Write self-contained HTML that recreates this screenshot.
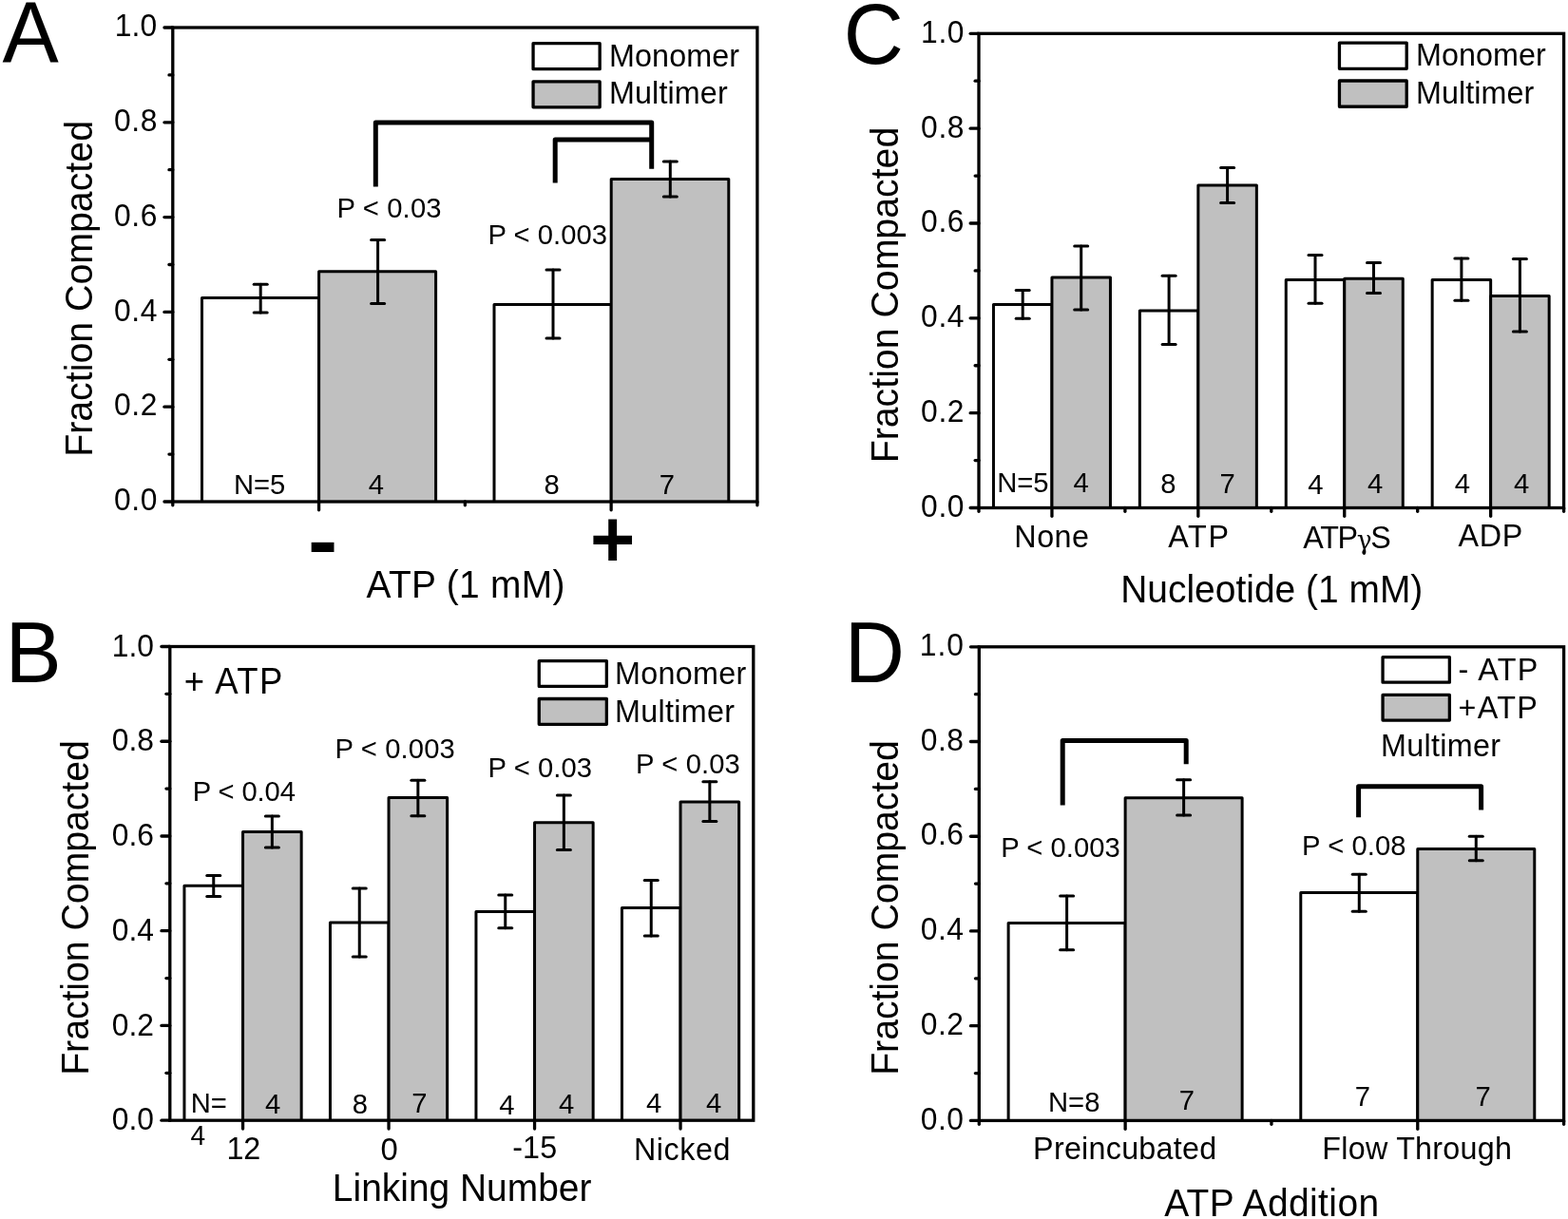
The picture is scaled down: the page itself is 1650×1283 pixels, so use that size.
<!DOCTYPE html>
<html><head><meta charset="utf-8"><title>Fraction Compacted bar charts</title>
<style>
html,body{margin:0;padding:0;background:#fff;}
body{width:1650px;height:1283px;overflow:hidden;}
svg{display:block;}
svg text{font-family:"Liberation Sans", Arial, Helvetica, sans-serif;fill:#000;stroke:none;}
</style></head>
<body>
<svg width="1650" height="1283" viewBox="0 0 1650 1283">
<rect x="0" y="0" width="1650" height="1283" fill="#fff"/>
<g stroke="#000">
<text id="lA" transform="translate(2.55 64.58) scale(1 1.04)" font-size="86.5" text-anchor="start" textLength="59.26" lengthAdjust="spacingAndGlyphs">A</text>
<text id="ylA" transform="translate(96.5 303.93) rotate(-90) scale(1 1.04)" font-size="39.3" text-anchor="middle" textLength="353.88" lengthAdjust="spacing">Fraction Compacted</text>
<path d="M212.5 528V313.5H335.6V528" fill="#ffffff" stroke-width="3" stroke-linejoin="round"/>
<path d="M335.6 528V285.7H458.6V528" fill="#c0c0c0" stroke-width="3" stroke-linejoin="round"/>
<path d="M520 528V320.5H643.2V528" fill="#ffffff" stroke-width="3" stroke-linejoin="round"/>
<path d="M643.2 528V188.4H766.8V528" fill="#c0c0c0" stroke-width="3" stroke-linejoin="round"/>
<line x1="274.2" y1="299.3" x2="274.2" y2="329" stroke-width="3" stroke-linecap="round"/>
<line x1="267.2" y1="299.3" x2="281.2" y2="299.3" stroke-width="3" stroke-linecap="round"/>
<line x1="267.2" y1="329" x2="281.2" y2="329" stroke-width="3" stroke-linecap="round"/>
<line x1="397.6" y1="252.6" x2="397.6" y2="319.6" stroke-width="3" stroke-linecap="round"/>
<line x1="390.6" y1="252.6" x2="404.6" y2="252.6" stroke-width="3" stroke-linecap="round"/>
<line x1="390.6" y1="319.6" x2="404.6" y2="319.6" stroke-width="3" stroke-linecap="round"/>
<line x1="582" y1="284" x2="582" y2="356.1" stroke-width="3" stroke-linecap="round"/>
<line x1="575" y1="284" x2="589" y2="284" stroke-width="3" stroke-linecap="round"/>
<line x1="575" y1="356.1" x2="589" y2="356.1" stroke-width="3" stroke-linecap="round"/>
<line x1="705.3" y1="169.9" x2="705.3" y2="207" stroke-width="3" stroke-linecap="round"/>
<line x1="698.3" y1="169.9" x2="712.3" y2="169.9" stroke-width="3" stroke-linecap="round"/>
<line x1="698.3" y1="207" x2="712.3" y2="207" stroke-width="3" stroke-linecap="round"/>
<rect x="181.8" y="29" width="615.1" height="499" fill="none" stroke-width="3.3" stroke-linejoin="miter"/>
<line x1="172.95" y1="528" x2="181.8" y2="528" stroke-width="3.3" stroke-linecap="round"/>
<text id="tA0" transform="translate(165.5 537.12) scale(1 1.04)" font-size="31.8" text-anchor="end" textLength="45.45" lengthAdjust="spacing">0.0</text>
<line x1="177.95" y1="478.1" x2="181.8" y2="478.1" stroke-width="3.3" stroke-linecap="round"/>
<line x1="172.95" y1="428.2" x2="181.8" y2="428.2" stroke-width="3.3" stroke-linecap="round"/>
<text id="tA2" transform="translate(165.5 437.32) scale(1 1.04)" font-size="31.8" text-anchor="end" textLength="45.45" lengthAdjust="spacing">0.2</text>
<line x1="177.95" y1="378.3" x2="181.8" y2="378.3" stroke-width="3.3" stroke-linecap="round"/>
<line x1="172.95" y1="328.4" x2="181.8" y2="328.4" stroke-width="3.3" stroke-linecap="round"/>
<text id="tA4" transform="translate(165.5 337.52) scale(1 1.04)" font-size="31.8" text-anchor="end" textLength="45.45" lengthAdjust="spacing">0.4</text>
<line x1="177.95" y1="278.5" x2="181.8" y2="278.5" stroke-width="3.3" stroke-linecap="round"/>
<line x1="172.95" y1="228.6" x2="181.8" y2="228.6" stroke-width="3.3" stroke-linecap="round"/>
<text id="tA6" transform="translate(165.5 237.73) scale(1 1.04)" font-size="31.8" text-anchor="end" textLength="45.45" lengthAdjust="spacing">0.6</text>
<line x1="177.95" y1="178.7" x2="181.8" y2="178.7" stroke-width="3.3" stroke-linecap="round"/>
<line x1="172.95" y1="128.8" x2="181.8" y2="128.8" stroke-width="3.3" stroke-linecap="round"/>
<text id="tA8" transform="translate(165.5 137.92) scale(1 1.04)" font-size="31.8" text-anchor="end" textLength="45.45" lengthAdjust="spacing">0.8</text>
<line x1="177.95" y1="78.9" x2="181.8" y2="78.9" stroke-width="3.3" stroke-linecap="round"/>
<line x1="172.95" y1="29" x2="181.8" y2="29" stroke-width="3.3" stroke-linecap="round"/>
<text id="tA10" transform="translate(165.25 38) scale(1 1.04)" font-size="31.8" text-anchor="end" textLength="44.45" lengthAdjust="spacing">1.0</text>
<line x1="181.8" y1="528" x2="181.8" y2="531.85" stroke-width="3.3" stroke-linecap="round"/>
<line x1="489.35" y1="528" x2="489.35" y2="531.85" stroke-width="3.3" stroke-linecap="round"/>
<line x1="796.9" y1="528" x2="796.9" y2="531.85" stroke-width="3.3" stroke-linecap="round"/>
<line x1="335.57" y1="528" x2="335.57" y2="536.85" stroke-width="3.3" stroke-linecap="round"/>
<line x1="643.12" y1="528" x2="643.12" y2="536.85" stroke-width="3.3" stroke-linecap="round"/>
<text id="nA1" transform="translate(273.2 520.18) scale(1 1.04)" font-size="29.2" text-anchor="middle" textLength="54.34" lengthAdjust="spacing">N=5</text>
<text id="nA2" transform="translate(395.9 520.3) scale(1 1.04)" font-size="29.2" text-anchor="middle">4</text>
<text id="nA3" transform="translate(580.65 520.3) scale(1 1.04)" font-size="29.2" text-anchor="middle">8</text>
<text id="nA4" transform="translate(701.75 520.2) scale(1 1.04)" font-size="29.2" text-anchor="middle">7</text>
<path d="M395.3 196.5 L395.3 129 L685.7 129 L685.7 177.8" fill="none" stroke-width="5" stroke-linejoin="round" stroke-linecap="butt"/>
<path d="M584.2 192.6 L584.2 147.1 L685.7 147.1" fill="none" stroke-width="5" stroke-linejoin="round" stroke-linecap="butt"/>
<text id="pA1" transform="translate(409.5 229.42) scale(1 1.04)" font-size="29.2" text-anchor="middle" textLength="109.97" lengthAdjust="spacing">P &lt; 0.03</text>
<text id="pA2" transform="translate(576.25 257.18) scale(1 1.04)" font-size="29.2" text-anchor="middle" textLength="125.71" lengthAdjust="spacing">P &lt; 0.003</text>
<rect x="561.05" y="45.7" width="70.1" height="26.95" fill="#ffffff" stroke-width="3.3" stroke-linejoin="round"/>
<rect x="561.05" y="85.95" width="70.1" height="26.9" fill="#c0c0c0" stroke-width="3.3" stroke-linejoin="round"/>
<text id="monA" transform="translate(641 69.53) scale(1 1.04)" font-size="32.3" text-anchor="start" textLength="137.12" lengthAdjust="spacing">Monomer</text>
<text id="mulA" transform="translate(641 109.13) scale(1 1.04)" font-size="32.3" text-anchor="start" textLength="124.66" lengthAdjust="spacing">Multimer</text>
<text id="minusA" transform="translate(339.62 597.88) scale(1 1.04)" font-size="82" text-anchor="middle" font-weight="bold" textLength="31.26" lengthAdjust="spacingAndGlyphs">-</text>
<text id="plusA" transform="translate(644.75 597.38) scale(1 1.04)" font-size="82" text-anchor="middle" font-weight="bold" textLength="47.35" lengthAdjust="spacingAndGlyphs">+</text>
<text id="xtA" transform="translate(490 628.6) scale(1 1.04)" font-size="38.9" text-anchor="middle" textLength="208.97" lengthAdjust="spacing">ATP (1 mM)</text>
<text id="lC" transform="translate(887.75 67) scale(1 1.04)" font-size="86.5" text-anchor="start" textLength="63.13" lengthAdjust="spacingAndGlyphs">C</text>
<text id="ylC" transform="translate(944.5 310.5) rotate(-90) scale(1 1.04)" font-size="39.3" text-anchor="middle" textLength="353.63" lengthAdjust="spacing">Fraction Compacted</text>
<path d="M1045.45 534.5V320.4H1106.95V534.5" fill="#ffffff" stroke-width="3" stroke-linejoin="round"/>
<path d="M1106.95 534.5V292.1H1168.45V534.5" fill="#c0c0c0" stroke-width="3" stroke-linejoin="round"/>
<line x1="1076.2" y1="305.5" x2="1076.2" y2="335.3" stroke-width="3" stroke-linecap="round"/>
<line x1="1069.2" y1="305.5" x2="1083.2" y2="305.5" stroke-width="3" stroke-linecap="round"/>
<line x1="1069.2" y1="335.3" x2="1083.2" y2="335.3" stroke-width="3" stroke-linecap="round"/>
<line x1="1137.7" y1="258.9" x2="1137.7" y2="326.1" stroke-width="3" stroke-linecap="round"/>
<line x1="1130.7" y1="258.9" x2="1144.7" y2="258.9" stroke-width="3" stroke-linecap="round"/>
<line x1="1130.7" y1="326.1" x2="1144.7" y2="326.1" stroke-width="3" stroke-linecap="round"/>
<text id="nC1" transform="translate(1076.45 518.18) scale(1 1.04)" font-size="29.2" text-anchor="middle" textLength="54.34" lengthAdjust="spacing">N=5</text>
<text id="nC2" transform="translate(1137.5 518.4) scale(1 1.04)" font-size="29.2" text-anchor="middle">4</text>
<path d="M1199.35 534.5V326.9H1260.85V534.5" fill="#ffffff" stroke-width="3" stroke-linejoin="round"/>
<path d="M1260.85 534.5V195.1H1322.35V534.5" fill="#c0c0c0" stroke-width="3" stroke-linejoin="round"/>
<line x1="1230.1" y1="290.2" x2="1230.1" y2="362.4" stroke-width="3" stroke-linecap="round"/>
<line x1="1223.1" y1="290.2" x2="1237.1" y2="290.2" stroke-width="3" stroke-linecap="round"/>
<line x1="1223.1" y1="362.4" x2="1237.1" y2="362.4" stroke-width="3" stroke-linecap="round"/>
<line x1="1291.6" y1="176.4" x2="1291.6" y2="213.5" stroke-width="3" stroke-linecap="round"/>
<line x1="1284.6" y1="176.4" x2="1298.6" y2="176.4" stroke-width="3" stroke-linecap="round"/>
<line x1="1284.6" y1="213.5" x2="1298.6" y2="213.5" stroke-width="3" stroke-linecap="round"/>
<text id="nC3" transform="translate(1229.25 519.4) scale(1 1.04)" font-size="29.2" text-anchor="middle">8</text>
<text id="nC4" transform="translate(1291.7 518.8) scale(1 1.04)" font-size="29.2" text-anchor="middle">7</text>
<path d="M1353.25 534.5V294.4H1414.75V534.5" fill="#ffffff" stroke-width="3" stroke-linejoin="round"/>
<path d="M1414.75 534.5V293.3H1476.25V534.5" fill="#c0c0c0" stroke-width="3" stroke-linejoin="round"/>
<line x1="1384" y1="268.4" x2="1384" y2="319.2" stroke-width="3" stroke-linecap="round"/>
<line x1="1377" y1="268.4" x2="1391" y2="268.4" stroke-width="3" stroke-linecap="round"/>
<line x1="1377" y1="319.2" x2="1391" y2="319.2" stroke-width="3" stroke-linecap="round"/>
<line x1="1445.5" y1="276.5" x2="1445.5" y2="308.5" stroke-width="3" stroke-linecap="round"/>
<line x1="1438.5" y1="276.5" x2="1452.5" y2="276.5" stroke-width="3" stroke-linecap="round"/>
<line x1="1438.5" y1="308.5" x2="1452.5" y2="308.5" stroke-width="3" stroke-linecap="round"/>
<text id="nC5" transform="translate(1384.35 520.05) scale(1 1.04)" font-size="29.2" text-anchor="middle">4</text>
<text id="nC6" transform="translate(1447.15 519.45) scale(1 1.04)" font-size="29.2" text-anchor="middle">4</text>
<path d="M1507.15 534.5V294.4H1568.65V534.5" fill="#ffffff" stroke-width="3" stroke-linejoin="round"/>
<path d="M1568.65 534.5V311.6H1630.15V534.5" fill="#c0c0c0" stroke-width="3" stroke-linejoin="round"/>
<line x1="1537.9" y1="271.9" x2="1537.9" y2="316.2" stroke-width="3" stroke-linecap="round"/>
<line x1="1530.9" y1="271.9" x2="1544.9" y2="271.9" stroke-width="3" stroke-linecap="round"/>
<line x1="1530.9" y1="316.2" x2="1544.9" y2="316.2" stroke-width="3" stroke-linecap="round"/>
<line x1="1599.4" y1="272.6" x2="1599.4" y2="349" stroke-width="3" stroke-linecap="round"/>
<line x1="1592.4" y1="272.6" x2="1606.4" y2="272.6" stroke-width="3" stroke-linecap="round"/>
<line x1="1592.4" y1="349" x2="1606.4" y2="349" stroke-width="3" stroke-linecap="round"/>
<text id="nC7" transform="translate(1538.75 518.8) scale(1 1.04)" font-size="29.2" text-anchor="middle">4</text>
<text id="nC8" transform="translate(1601.15 518.5) scale(1 1.04)" font-size="29.2" text-anchor="middle">4</text>
<rect x="1030" y="35.3" width="615.6" height="499.2" fill="none" stroke-width="3.3" stroke-linejoin="miter"/>
<line x1="1021.15" y1="534.5" x2="1030" y2="534.5" stroke-width="3.3" stroke-linecap="round"/>
<text id="tC0" transform="translate(1014.55 543.88) scale(1 1.04)" font-size="31.8" text-anchor="end" textLength="45.45" lengthAdjust="spacing">0.0</text>
<line x1="1026.15" y1="484.58" x2="1030" y2="484.58" stroke-width="3.3" stroke-linecap="round"/>
<line x1="1021.15" y1="434.66" x2="1030" y2="434.66" stroke-width="3.3" stroke-linecap="round"/>
<text id="tC2" transform="translate(1014.55 444.03) scale(1 1.04)" font-size="31.8" text-anchor="end" textLength="45.45" lengthAdjust="spacing">0.2</text>
<line x1="1026.15" y1="384.74" x2="1030" y2="384.74" stroke-width="3.3" stroke-linecap="round"/>
<line x1="1021.15" y1="334.82" x2="1030" y2="334.82" stroke-width="3.3" stroke-linecap="round"/>
<text id="tC4" transform="translate(1014.55 344.19) scale(1 1.04)" font-size="31.8" text-anchor="end" textLength="45.45" lengthAdjust="spacing">0.4</text>
<line x1="1026.15" y1="284.9" x2="1030" y2="284.9" stroke-width="3.3" stroke-linecap="round"/>
<line x1="1021.15" y1="234.98" x2="1030" y2="234.98" stroke-width="3.3" stroke-linecap="round"/>
<text id="tC6" transform="translate(1014.55 244.36) scale(1 1.04)" font-size="31.8" text-anchor="end" textLength="45.45" lengthAdjust="spacing">0.6</text>
<line x1="1026.15" y1="185.06" x2="1030" y2="185.06" stroke-width="3.3" stroke-linecap="round"/>
<line x1="1021.15" y1="135.14" x2="1030" y2="135.14" stroke-width="3.3" stroke-linecap="round"/>
<text id="tC8" transform="translate(1014.55 144.51) scale(1 1.04)" font-size="31.8" text-anchor="end" textLength="45.45" lengthAdjust="spacing">0.8</text>
<line x1="1026.15" y1="85.22" x2="1030" y2="85.22" stroke-width="3.3" stroke-linecap="round"/>
<line x1="1021.15" y1="35.3" x2="1030" y2="35.3" stroke-width="3.3" stroke-linecap="round"/>
<text id="tC10" transform="translate(1014.55 44.68) scale(1 1.04)" font-size="31.8" text-anchor="end" textLength="45.45" lengthAdjust="spacing">1.0</text>
<line x1="1030" y1="534.5" x2="1030" y2="538.35" stroke-width="3.3" stroke-linecap="round"/>
<line x1="1183.9" y1="534.5" x2="1183.9" y2="538.35" stroke-width="3.3" stroke-linecap="round"/>
<line x1="1337.8" y1="534.5" x2="1337.8" y2="538.35" stroke-width="3.3" stroke-linecap="round"/>
<line x1="1491.7" y1="534.5" x2="1491.7" y2="538.35" stroke-width="3.3" stroke-linecap="round"/>
<line x1="1645.6" y1="534.5" x2="1645.6" y2="538.35" stroke-width="3.3" stroke-linecap="round"/>
<line x1="1106.95" y1="534.5" x2="1106.95" y2="543.35" stroke-width="3.3" stroke-linecap="round"/>
<line x1="1260.85" y1="534.5" x2="1260.85" y2="543.35" stroke-width="3.3" stroke-linecap="round"/>
<line x1="1414.75" y1="534.5" x2="1414.75" y2="543.35" stroke-width="3.3" stroke-linecap="round"/>
<line x1="1568.65" y1="534.5" x2="1568.65" y2="543.35" stroke-width="3.3" stroke-linecap="round"/>
<text id="catC1" transform="translate(1106.7 576.37) scale(1 1.04)" font-size="32.3" text-anchor="middle" textLength="78.69" lengthAdjust="spacing">None</text>
<text id="catC2" transform="translate(1261.1 575.63) scale(1 1.04)" font-size="32.3" text-anchor="middle" textLength="63.91" lengthAdjust="spacing">ATP</text>
<text id="catC3" transform="translate(1417.62 577.06) scale(1 1.04)" font-size="32.3" text-anchor="middle" textLength="92.54" lengthAdjust="spacing">ATP<tspan font-family="DejaVu Serif, serif" font-size="26.5" dy="0.6">&#947;</tspan><tspan dy="-0.6">S</tspan></text>
<text id="catC4" transform="translate(1568.4 575.25) scale(1 1.04)" font-size="32.3" text-anchor="middle" textLength="67.89" lengthAdjust="spacing">ADP</text>
<text id="xtC" transform="translate(1338.25 633.6) scale(1 1.04)" font-size="38.9" text-anchor="middle" textLength="318.16" lengthAdjust="spacing">Nucleotide (1 mM)</text>
<rect x="1409.45" y="45.05" width="70.75" height="27.3" fill="#ffffff" stroke-width="3.3" stroke-linejoin="round"/>
<rect x="1409.45" y="85" width="70.75" height="27.25" fill="#c0c0c0" stroke-width="3.3" stroke-linejoin="round"/>
<text id="monC" transform="translate(1490 69.35) scale(1 1.04)" font-size="32.3" text-anchor="start" textLength="136.87" lengthAdjust="spacing">Monomer</text>
<text id="mulC" transform="translate(1490 109.05) scale(1 1.04)" font-size="32.3" text-anchor="start" textLength="124.36" lengthAdjust="spacing">Multimer</text>
<text id="lB" transform="translate(5.5 717.65) scale(1 1.04)" font-size="86.5" text-anchor="start" textLength="59.28" lengthAdjust="spacingAndGlyphs">B</text>
<text id="ylB" transform="translate(93.25 955.5) rotate(-90) scale(1 1.04)" font-size="39.3" text-anchor="middle" textLength="352.63" lengthAdjust="spacing">Fraction Compacted</text>
<path d="M193.95 1179.2V932.2H255.55V1179.2" fill="#ffffff" stroke-width="3" stroke-linejoin="round"/>
<path d="M255.55 1179.2V875.4H317.15V1179.2" fill="#c0c0c0" stroke-width="3" stroke-linejoin="round"/>
<line x1="224.75" y1="921.5" x2="224.75" y2="943.6" stroke-width="3" stroke-linecap="round"/>
<line x1="217.75" y1="921.5" x2="231.75" y2="921.5" stroke-width="3" stroke-linecap="round"/>
<line x1="217.75" y1="943.6" x2="231.75" y2="943.6" stroke-width="3" stroke-linecap="round"/>
<line x1="286.35" y1="858.9" x2="286.35" y2="892" stroke-width="3" stroke-linecap="round"/>
<line x1="279.35" y1="858.9" x2="293.35" y2="858.9" stroke-width="3" stroke-linecap="round"/>
<line x1="279.35" y1="892" x2="293.35" y2="892" stroke-width="3" stroke-linecap="round"/>
<text id="nB1" transform="translate(219.75 1170.8) scale(1 1.04)" font-size="29.2" text-anchor="middle" textLength="38.12" lengthAdjust="spacing">N=</text>
<text id="nB2" transform="translate(287 1171.5) scale(1 1.04)" font-size="29.2" text-anchor="middle">4</text>
<path d="M347.45 1179.2V971.1H409.05V1179.2" fill="#ffffff" stroke-width="3" stroke-linejoin="round"/>
<path d="M409.05 1179.2V839.6H470.65V1179.2" fill="#c0c0c0" stroke-width="3" stroke-linejoin="round"/>
<line x1="378.25" y1="934.9" x2="378.25" y2="1006.9" stroke-width="3" stroke-linecap="round"/>
<line x1="371.25" y1="934.9" x2="385.25" y2="934.9" stroke-width="3" stroke-linecap="round"/>
<line x1="371.25" y1="1006.9" x2="385.25" y2="1006.9" stroke-width="3" stroke-linecap="round"/>
<line x1="439.85" y1="821.2" x2="439.85" y2="858.8" stroke-width="3" stroke-linecap="round"/>
<line x1="432.85" y1="821.2" x2="446.85" y2="821.2" stroke-width="3" stroke-linecap="round"/>
<line x1="432.85" y1="858.8" x2="446.85" y2="858.8" stroke-width="3" stroke-linecap="round"/>
<text id="nB3" transform="translate(378.9 1171.8) scale(1 1.04)" font-size="29.2" text-anchor="middle">8</text>
<text id="nB4" transform="translate(441.3 1171.25) scale(1 1.04)" font-size="29.2" text-anchor="middle">7</text>
<path d="M500.95 1179.2V959.4H562.55V1179.2" fill="#ffffff" stroke-width="3" stroke-linejoin="round"/>
<path d="M562.55 1179.2V865.8H624.15V1179.2" fill="#c0c0c0" stroke-width="3" stroke-linejoin="round"/>
<line x1="531.75" y1="941.9" x2="531.75" y2="976.8" stroke-width="3" stroke-linecap="round"/>
<line x1="524.75" y1="941.9" x2="538.75" y2="941.9" stroke-width="3" stroke-linecap="round"/>
<line x1="524.75" y1="976.8" x2="538.75" y2="976.8" stroke-width="3" stroke-linecap="round"/>
<line x1="593.35" y1="837.1" x2="593.35" y2="894.5" stroke-width="3" stroke-linecap="round"/>
<line x1="586.35" y1="837.1" x2="600.35" y2="837.1" stroke-width="3" stroke-linecap="round"/>
<line x1="586.35" y1="894.5" x2="600.35" y2="894.5" stroke-width="3" stroke-linecap="round"/>
<text id="nB5" transform="translate(533.25 1173.1) scale(1 1.04)" font-size="29.2" text-anchor="middle">4</text>
<text id="nB6" transform="translate(596.2 1171.5) scale(1 1.04)" font-size="29.2" text-anchor="middle">4</text>
<path d="M654.45 1179.2V955.6H716.05V1179.2" fill="#ffffff" stroke-width="3" stroke-linejoin="round"/>
<path d="M716.05 1179.2V843.9H777.65V1179.2" fill="#c0c0c0" stroke-width="3" stroke-linejoin="round"/>
<line x1="685.25" y1="926.4" x2="685.25" y2="985.1" stroke-width="3" stroke-linecap="round"/>
<line x1="678.25" y1="926.4" x2="692.25" y2="926.4" stroke-width="3" stroke-linecap="round"/>
<line x1="678.25" y1="985.1" x2="692.25" y2="985.1" stroke-width="3" stroke-linecap="round"/>
<line x1="746.85" y1="822.7" x2="746.85" y2="864.6" stroke-width="3" stroke-linecap="round"/>
<line x1="739.85" y1="822.7" x2="753.85" y2="822.7" stroke-width="3" stroke-linecap="round"/>
<line x1="739.85" y1="864.6" x2="753.85" y2="864.6" stroke-width="3" stroke-linecap="round"/>
<text id="nB7" transform="translate(688.05 1171.2) scale(1 1.04)" font-size="29.2" text-anchor="middle">4</text>
<text id="nB8" transform="translate(751.05 1170.65) scale(1 1.04)" font-size="29.2" text-anchor="middle">4</text>
<rect x="178.8" y="680.5" width="614" height="498.7" fill="none" stroke-width="3.3" stroke-linejoin="miter"/>
<line x1="169.95" y1="1179.2" x2="178.8" y2="1179.2" stroke-width="3.3" stroke-linecap="round"/>
<text id="tB0" transform="translate(162 1189.45) scale(1 1.04)" font-size="31.8" text-anchor="end" textLength="44.2" lengthAdjust="spacing">0.0</text>
<line x1="174.95" y1="1129.33" x2="178.8" y2="1129.33" stroke-width="3.3" stroke-linecap="round"/>
<line x1="169.95" y1="1079.46" x2="178.8" y2="1079.46" stroke-width="3.3" stroke-linecap="round"/>
<text id="tB2" transform="translate(162 1089.71) scale(1 1.04)" font-size="31.8" text-anchor="end" textLength="44.2" lengthAdjust="spacing">0.2</text>
<line x1="174.95" y1="1029.59" x2="178.8" y2="1029.59" stroke-width="3.3" stroke-linecap="round"/>
<line x1="169.95" y1="979.72" x2="178.8" y2="979.72" stroke-width="3.3" stroke-linecap="round"/>
<text id="tB4" transform="translate(162 989.97) scale(1 1.04)" font-size="31.8" text-anchor="end" textLength="44.2" lengthAdjust="spacing">0.4</text>
<line x1="174.95" y1="929.85" x2="178.8" y2="929.85" stroke-width="3.3" stroke-linecap="round"/>
<line x1="169.95" y1="879.98" x2="178.8" y2="879.98" stroke-width="3.3" stroke-linecap="round"/>
<text id="tB6" transform="translate(162 890.23) scale(1 1.04)" font-size="31.8" text-anchor="end" textLength="44.2" lengthAdjust="spacing">0.6</text>
<line x1="174.95" y1="830.11" x2="178.8" y2="830.11" stroke-width="3.3" stroke-linecap="round"/>
<line x1="169.95" y1="780.24" x2="178.8" y2="780.24" stroke-width="3.3" stroke-linecap="round"/>
<text id="tB8" transform="translate(162 790.49) scale(1 1.04)" font-size="31.8" text-anchor="end" textLength="44.2" lengthAdjust="spacing">0.8</text>
<line x1="174.95" y1="730.37" x2="178.8" y2="730.37" stroke-width="3.3" stroke-linecap="round"/>
<line x1="169.95" y1="680.5" x2="178.8" y2="680.5" stroke-width="3.3" stroke-linecap="round"/>
<text id="tB10" transform="translate(162 690.75) scale(1 1.04)" font-size="31.8" text-anchor="end" textLength="44.2" lengthAdjust="spacing">1.0</text>
<line x1="255.55" y1="1179.2" x2="255.55" y2="1188.05" stroke-width="3.3" stroke-linecap="round"/>
<line x1="409.05" y1="1179.2" x2="409.05" y2="1188.05" stroke-width="3.3" stroke-linecap="round"/>
<line x1="562.55" y1="1179.2" x2="562.55" y2="1188.05" stroke-width="3.3" stroke-linecap="round"/>
<line x1="716.05" y1="1179.2" x2="716.05" y2="1188.05" stroke-width="3.3" stroke-linecap="round"/>
<text id="n4below" transform="translate(208.37 1205.25) scale(1 1.04)" font-size="29.2" text-anchor="middle" textLength="15.61" lengthAdjust="spacingAndGlyphs">4</text>
<text id="catB1" transform="translate(256.42 1220.3) scale(1 1.04)" font-size="32.3" text-anchor="middle" textLength="35.67" lengthAdjust="spacing">12</text>
<text id="catB2" transform="translate(409.55 1221.05) scale(1 1.04)" font-size="32.3" text-anchor="middle" textLength="18.26" lengthAdjust="spacingAndGlyphs">0</text>
<text id="catB3" transform="translate(562.67 1219.3) scale(1 1.04)" font-size="32.3" text-anchor="middle" textLength="46.92" lengthAdjust="spacing">-15</text>
<text id="catB4" transform="translate(717.67 1220.55) scale(1 1.04)" font-size="32.3" text-anchor="middle" textLength="101.44" lengthAdjust="spacing">Nicked</text>
<text id="xtB" transform="translate(486.12 1263.55) scale(1 1.04)" font-size="38.9" text-anchor="middle" textLength="272.59" lengthAdjust="spacing">Linking Number</text>
<text id="plusATP" transform="translate(193.75 729.85) scale(1 1.04)" font-size="36.5" text-anchor="start" textLength="103.68" lengthAdjust="spacing">+ ATP</text>
<rect x="567.25" y="695.55" width="71.1" height="26.85" fill="#ffffff" stroke-width="3.3" stroke-linejoin="round"/>
<rect x="567.25" y="735.5" width="71.1" height="26.85" fill="#c0c0c0" stroke-width="3.3" stroke-linejoin="round"/>
<text id="monB" transform="translate(647 720.15) scale(1 1.04)" font-size="32.3" text-anchor="start" textLength="138.37" lengthAdjust="spacing">Monomer</text>
<text id="mulB" transform="translate(647 760.05) scale(1 1.04)" font-size="32.3" text-anchor="start" textLength="126.11" lengthAdjust="spacing">Multimer</text>
<text id="pB1" transform="translate(256.87 843.27) scale(1 1.04)" font-size="29.2" text-anchor="middle" textLength="108.22" lengthAdjust="spacing">P &lt; 0.04</text>
<text id="pB2" transform="translate(415.63 797.67) scale(1 1.04)" font-size="29.2" text-anchor="middle" textLength="126.46" lengthAdjust="spacing">P &lt; 0.003</text>
<text id="pB3" transform="translate(568.2 818.45) scale(1 1.04)" font-size="29.2" text-anchor="middle" textLength="109.47" lengthAdjust="spacing">P &lt; 0.03</text>
<text id="pB4" transform="translate(723.88 814.45) scale(1 1.04)" font-size="29.2" text-anchor="middle" textLength="109.72" lengthAdjust="spacing">P &lt; 0.03</text>
<text id="lD" transform="translate(888.75 717.55) scale(1 1.04)" font-size="86.5" text-anchor="start" textLength="63.15" lengthAdjust="spacingAndGlyphs">D</text>
<text id="ylD" transform="translate(944.8 955.5) rotate(-90) scale(1 1.04)" font-size="39.3" text-anchor="middle" textLength="352.63" lengthAdjust="spacing">Fraction Compacted</text>
<path d="M1061.12 1179.4V971.5H1184.12V1179.4" fill="#ffffff" stroke-width="3" stroke-linejoin="round"/>
<path d="M1184.12 1179.4V839.7H1307.12V1179.4" fill="#c0c0c0" stroke-width="3" stroke-linejoin="round"/>
<line x1="1122.62" y1="942.9" x2="1122.62" y2="999.7" stroke-width="3" stroke-linecap="round"/>
<line x1="1115.62" y1="942.9" x2="1129.62" y2="942.9" stroke-width="3" stroke-linecap="round"/>
<line x1="1115.62" y1="999.7" x2="1129.62" y2="999.7" stroke-width="3" stroke-linecap="round"/>
<line x1="1245.62" y1="820.8" x2="1245.62" y2="857.9" stroke-width="3" stroke-linecap="round"/>
<line x1="1238.62" y1="820.8" x2="1252.62" y2="820.8" stroke-width="3" stroke-linecap="round"/>
<line x1="1238.62" y1="857.9" x2="1252.62" y2="857.9" stroke-width="3" stroke-linecap="round"/>
<path d="M1368.77 1179.4V939.4H1491.77V1179.4" fill="#ffffff" stroke-width="3" stroke-linejoin="round"/>
<path d="M1491.77 1179.4V893.6H1614.77V1179.4" fill="#c0c0c0" stroke-width="3" stroke-linejoin="round"/>
<line x1="1430.27" y1="920.3" x2="1430.27" y2="959.3" stroke-width="3" stroke-linecap="round"/>
<line x1="1423.27" y1="920.3" x2="1437.27" y2="920.3" stroke-width="3" stroke-linecap="round"/>
<line x1="1423.27" y1="959.3" x2="1437.27" y2="959.3" stroke-width="3" stroke-linecap="round"/>
<line x1="1553.27" y1="880.2" x2="1553.27" y2="905.8" stroke-width="3" stroke-linecap="round"/>
<line x1="1546.27" y1="880.2" x2="1560.27" y2="880.2" stroke-width="3" stroke-linecap="round"/>
<line x1="1546.27" y1="905.8" x2="1560.27" y2="905.8" stroke-width="3" stroke-linecap="round"/>
<rect x="1030.3" y="680.8" width="615.3" height="498.6" fill="none" stroke-width="3.3" stroke-linejoin="miter"/>
<line x1="1021.45" y1="1179.4" x2="1030.3" y2="1179.4" stroke-width="3.3" stroke-linecap="round"/>
<text id="tD0" transform="translate(1014 1188.65) scale(1 1.04)" font-size="31.8" text-anchor="end" textLength="45.2" lengthAdjust="spacing">0.0</text>
<line x1="1026.45" y1="1129.54" x2="1030.3" y2="1129.54" stroke-width="3.3" stroke-linecap="round"/>
<line x1="1021.45" y1="1079.68" x2="1030.3" y2="1079.68" stroke-width="3.3" stroke-linecap="round"/>
<text id="tD2" transform="translate(1014 1088.93) scale(1 1.04)" font-size="31.8" text-anchor="end" textLength="45.2" lengthAdjust="spacing">0.2</text>
<line x1="1026.45" y1="1029.82" x2="1030.3" y2="1029.82" stroke-width="3.3" stroke-linecap="round"/>
<line x1="1021.45" y1="979.96" x2="1030.3" y2="979.96" stroke-width="3.3" stroke-linecap="round"/>
<text id="tD4" transform="translate(1014 989.21) scale(1 1.04)" font-size="31.8" text-anchor="end" textLength="45.2" lengthAdjust="spacing">0.4</text>
<line x1="1026.45" y1="930.1" x2="1030.3" y2="930.1" stroke-width="3.3" stroke-linecap="round"/>
<line x1="1021.45" y1="880.24" x2="1030.3" y2="880.24" stroke-width="3.3" stroke-linecap="round"/>
<text id="tD6" transform="translate(1014 889.49) scale(1 1.04)" font-size="31.8" text-anchor="end" textLength="45.2" lengthAdjust="spacing">0.6</text>
<line x1="1026.45" y1="830.38" x2="1030.3" y2="830.38" stroke-width="3.3" stroke-linecap="round"/>
<line x1="1021.45" y1="780.52" x2="1030.3" y2="780.52" stroke-width="3.3" stroke-linecap="round"/>
<text id="tD8" transform="translate(1014 789.77) scale(1 1.04)" font-size="31.8" text-anchor="end" textLength="45.2" lengthAdjust="spacing">0.8</text>
<line x1="1026.45" y1="730.66" x2="1030.3" y2="730.66" stroke-width="3.3" stroke-linecap="round"/>
<line x1="1021.45" y1="680.8" x2="1030.3" y2="680.8" stroke-width="3.3" stroke-linecap="round"/>
<text id="tD10" transform="translate(1014 689.92) scale(1 1.04)" font-size="31.8" text-anchor="end" textLength="46.2" lengthAdjust="spacing">1.0</text>
<line x1="1030.3" y1="1179.4" x2="1030.3" y2="1183.25" stroke-width="3.3" stroke-linecap="round"/>
<line x1="1337.95" y1="1179.4" x2="1337.95" y2="1183.25" stroke-width="3.3" stroke-linecap="round"/>
<line x1="1645.6" y1="1179.4" x2="1645.6" y2="1183.25" stroke-width="3.3" stroke-linecap="round"/>
<line x1="1184.12" y1="1179.4" x2="1184.12" y2="1188.25" stroke-width="3.3" stroke-linecap="round"/>
<line x1="1491.77" y1="1179.4" x2="1491.77" y2="1188.25" stroke-width="3.3" stroke-linecap="round"/>
<text id="nD1" transform="translate(1130.22 1169.65) scale(1 1.04)" font-size="29.2" text-anchor="middle" textLength="54.59" lengthAdjust="spacing">N=8</text>
<text id="nD2" transform="translate(1248.85 1168.45) scale(1 1.04)" font-size="29.2" text-anchor="middle">7</text>
<text id="nD3" transform="translate(1433.9 1164.4) scale(1 1.04)" font-size="29.2" text-anchor="middle">7</text>
<text id="nD4" transform="translate(1560.55 1163.55) scale(1 1.04)" font-size="29.2" text-anchor="middle">7</text>
<text id="catD1" transform="translate(1183.62 1220.45) scale(1 1.04)" font-size="32.3" text-anchor="middle" textLength="193.02" lengthAdjust="spacing">Preincubated</text>
<text id="catD2" transform="translate(1491.12 1220.45) scale(1 1.04)" font-size="32.3" text-anchor="middle" textLength="199.56" lengthAdjust="spacing">Flow Through</text>
<text id="xtD" transform="translate(1338.12 1279.55) scale(1 1.04)" font-size="38.9" text-anchor="middle" textLength="225.99" lengthAdjust="spacing">ATP Addition</text>
<path d="M1118.2 847.5 L1118.2 779.4 L1248.2 779.4 L1248.2 804.3" fill="none" stroke-width="5" stroke-linejoin="round" stroke-linecap="butt"/>
<path d="M1429.6 860.3 L1429.6 827.7 L1558.6 827.7 L1558.6 852.4" fill="none" stroke-width="5" stroke-linejoin="round" stroke-linecap="butt"/>
<text id="pD1" transform="translate(1116 902.15) scale(1 1.04)" font-size="29.2" text-anchor="middle" textLength="125.71" lengthAdjust="spacing">P &lt; 0.003</text>
<text id="pD2" transform="translate(1424.75 899.55) scale(1 1.04)" font-size="29.2" text-anchor="middle" textLength="109.47" lengthAdjust="spacing">P &lt; 0.08</text>
<rect x="1455.05" y="691.55" width="70.3" height="26.6" fill="#ffffff" stroke-width="3.3" stroke-linejoin="round"/>
<rect x="1455.05" y="731.45" width="70.3" height="26.6" fill="#c0c0c0" stroke-width="3.3" stroke-linejoin="round"/>
<text id="legD1" transform="translate(1534.5 716.45) scale(1 1.04)" font-size="32.3" text-anchor="start" textLength="83.84" lengthAdjust="spacing">- ATP</text>
<text id="legD2" transform="translate(1534.5 755.95) scale(1 1.04)" font-size="32.3" text-anchor="start" textLength="83.38" lengthAdjust="spacing">+ATP</text>
<text id="mulD" transform="translate(1453 795.8) scale(1 1.04)" font-size="32.3" text-anchor="start" textLength="126.03" lengthAdjust="spacing">Multimer</text>
</g>
</svg>
</body></html>
